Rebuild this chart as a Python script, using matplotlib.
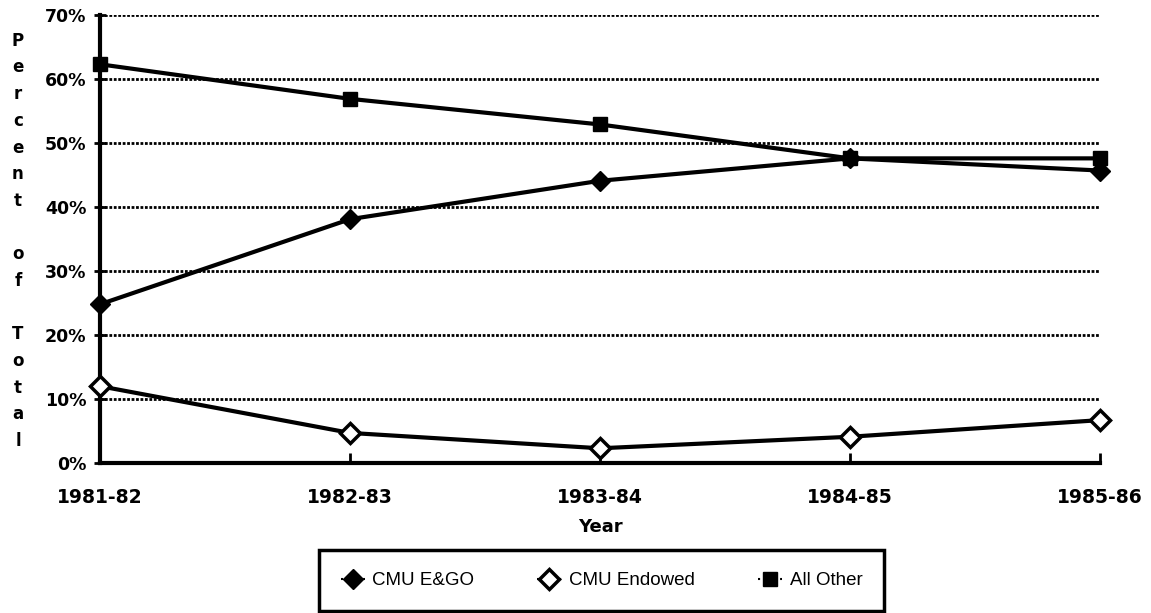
import numpy as np
import matplotlib.pyplot as plt
from matplotlib.ticker import FuncFormatter

years = ["1981-82", "1982-83", "1983-84", "1984-85", "1985-86"]
cmu_ego = [24.8, 38.1, 44.1, 47.6, 45.7]
cmu_endowed = [12.0, 4.7, 2.3, 4.1, 6.7]
all_other = [62.3, 56.9, 52.9, 47.6, 47.6]

plt.rcParams['font.family'] = ['DejaVu Sans']

fig = plt.figure(figsize=(11.51, 6.13), dpi=100)
ax = fig.add_axes([0.0869, 0.2447, 0.8688, 0.7308])

x = np.arange(len(years))
ax.plot(x, cmu_ego, color='black', lw=3, marker='D', ms=10, mfc='black', mec='black',
        label='CMU E&GO', zorder=3, clip_on=False)
ax.plot(x, cmu_endowed, color='black', lw=3, marker='D', ms=10, mfc='white', mec='black', mew=2.5,
        label='CMU Endowed', zorder=3, clip_on=False)
ax.plot(x, all_other, color='black', lw=3, marker='s', ms=10, mfc='black', mec='black',
        label='All Other', zorder=3, clip_on=False)

ax.set_xlim(0, 4)
ax.set_ylim(0, 70)
ax.set_yticks(np.arange(0, 71, 10))
ax.yaxis.set_major_formatter(FuncFormatter(lambda v, p: "%d%%" % v))
ax.set_xticks(x)
ax.set_xticklabels(years)

ax.grid(axis='y', color='black', linestyle=(0, (1, 0.6)), lw=2)
ax.set_axisbelow(True)
for s in ['top', 'right']:
    ax.spines[s].set_visible(False)
for s in ['left', 'bottom']:
    ax.spines[s].set_linewidth(3)
ax.tick_params(axis='y', direction='inout', length=8, width=2, labelsize=12.5, pad=6)
ax.tick_params(axis='x', direction='in', length=7, width=2, labelsize=13.5, pad=18)
for lab in ax.get_xticklabels() + ax.get_yticklabels():
    lab.set_fontweight('bold')

ax.set_xlabel("Year", fontsize=13, fontweight='bold', labelpad=8)

ylab = "P\ne\nr\nc\ne\nn\nt\n\no\nf\n\nT\no\nt\na\nl"
fig.text(0.0156, 0.607, ylab, fontsize=12, fontweight='bold', ha='center', va='center', linespacing=1.62)

leg = fig.legend(loc='center', bbox_to_anchor=(0.5226, 0.053), ncol=3, frameon=True, fancybox=False,
                 framealpha=1, edgecolor='black', handlelength=1.3, borderpad=1.15, columnspacing=3.35,
                 handletextpad=0.4, borderaxespad=0,
                 prop={'family': 'Liberation Sans', 'size': 13.5})
leg.get_frame().set_linewidth(2.5)
for h in leg.legend_handles:
    h.set_linewidth(1.5)
    h.set_linestyle(':')

fig.savefig('out.png', dpi=100)
